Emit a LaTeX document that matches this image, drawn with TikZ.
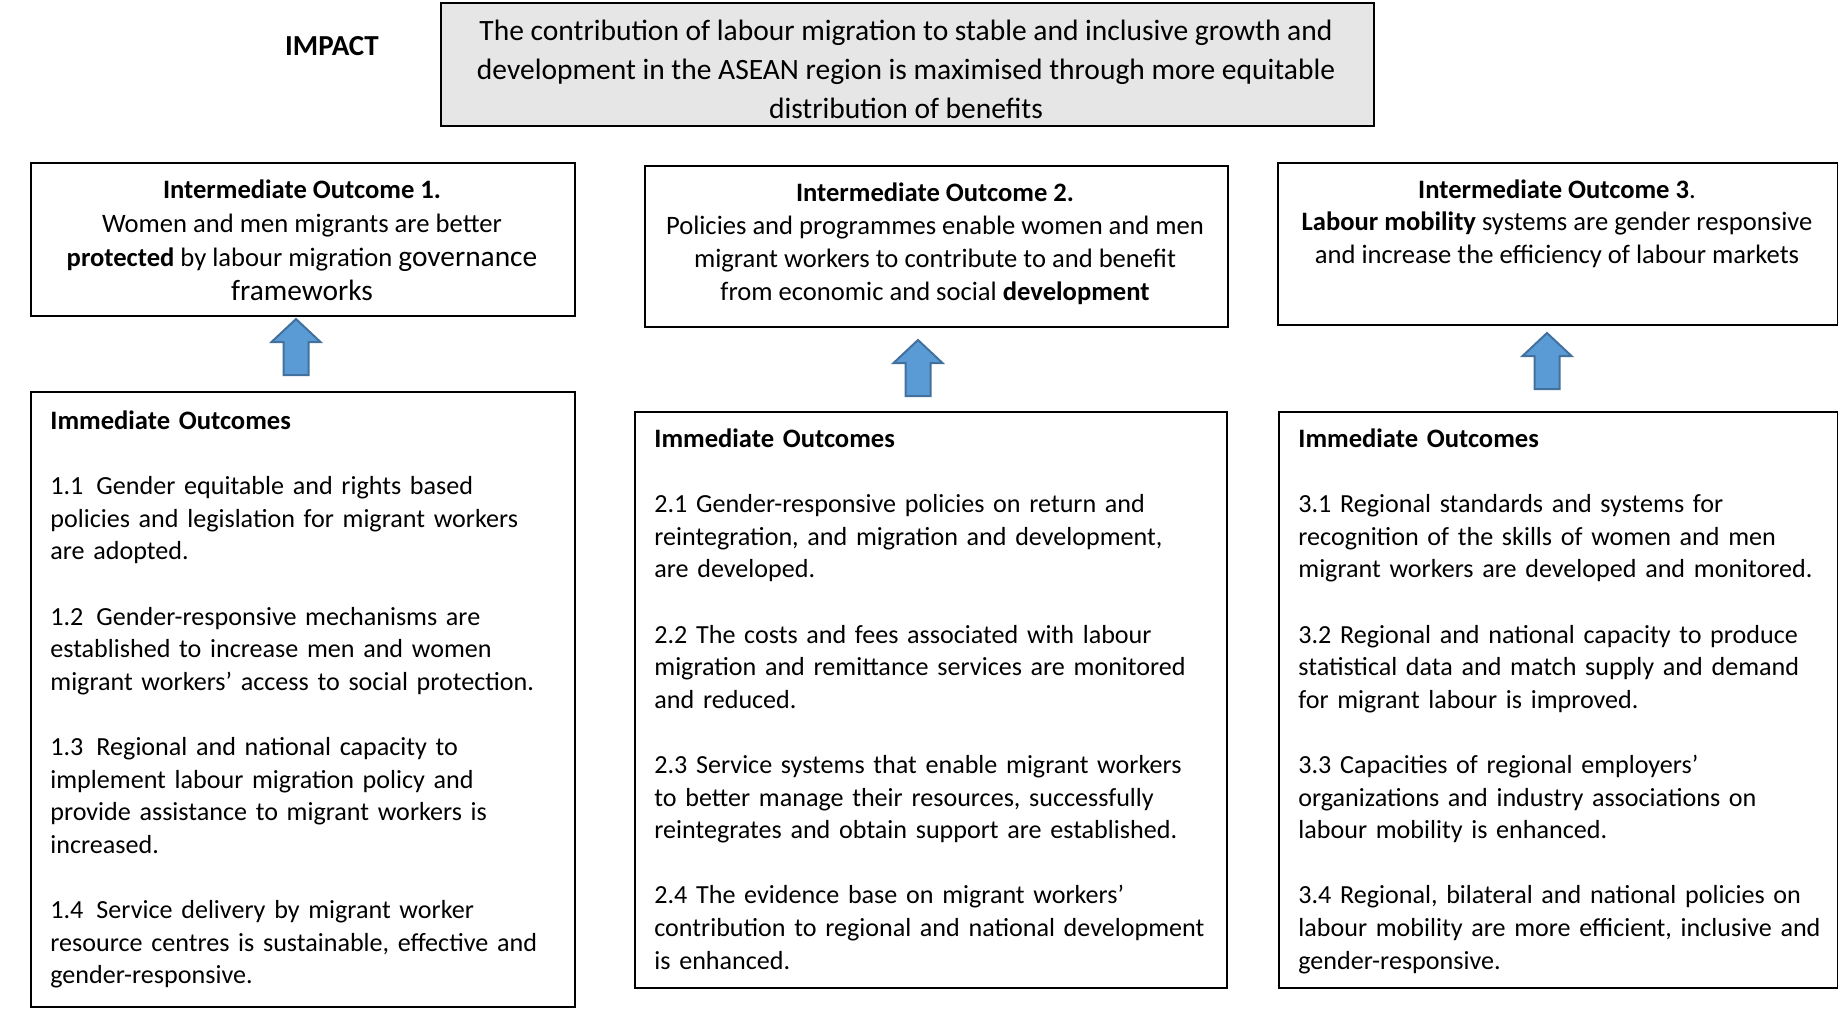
\documentclass[tikz,border=0pt]{standalone}
\usepackage{fontspec}
\setmainfont{Carlito}
\definecolor{boxgrey}{HTML}{E6E6E6}
\definecolor{arrowfill}{HTML}{5B9BD5}
\definecolor{arrowline}{HTML}{41719C}
% first-line strut: puts the first baseline 10pt below the node top
\newcommand\fl{\rule{0pt}{10pt}}
\newcommand\hdr[1]{{\fontsize{13.3}{16.3}\selectfont\textbf{#1}}}
\begin{document}
\begin{tikzpicture}[x=0.5pt,y=-0.5pt,
  box/.style={draw=black,line width=0.8pt,inner sep=0pt,anchor=north west},
  greybox/.style={box,fill=boxgrey},
  ctext/.style={inner sep=0pt,anchor=north,align=center},
  ltext/.style={inner sep=0pt,anchor=north west,align=left,text width=300pt},
  bodyfont/.style={font=\fontsize{13.05}{16.3}\selectfont},
  uparrow/.pic={
    \path[fill=arrowfill,draw=arrowline,line width=1pt,line join=miter]
      (0,0) -- (24.5,23) -- (12.5,23) -- (12.5,56) -- (-12.5,56)
      -- (-12.5,23) -- (-24.5,23) -- cycle;
  }]
\useasboundingbox (0,0) rectangle (1838,1008);

% impact
\node[greybox,minimum width=466.5pt,minimum height=61.5pt] (impactbox) at (440,2) {};
\node[font=\bfseries\fontsize{14.5}{17}\selectfont] (impact) at (332,46) {IMPACT};
\node[ctext,font=\fontsize{14.75}{19.5}\selectfont] (impacttext) at (906,20)
  {\fl The contribution of labour migration to stable and inclusive growth and\\
   development in the ASEAN region is maximised through more equitable\\
   distribution of benefits};

% intermediate outcomes
\node[box,minimum width=272pt,minimum height=76.5pt] (io1) at (30,162) {};
\node[box,minimum width=291.5pt,minimum height=80.5pt] (io2) at (644,165) {};
\node[box,minimum width=279.75pt,minimum height=81pt] (io3) at (1277,162) {};

\node[ctext,font=\fontsize{13.3}{17}\selectfont] (io1text) at (302,178)
  {\fl\textbf{Intermediate Outcome 1.}\\
   Women and men migrants are better\\
   \textbf{protected} by labour migration {\fontsize{14.7}{17}\selectfont governance}\\
   {\fontsize{14.7}{17}\selectfont frameworks}};
\node[ctext,font=\fontsize{13.3}{16.5}\selectfont] (io2text) at (935,181)
  {\fl\textbf{Intermediate Outcome 2.}\\
   Policies and programmes enable women and men\\
   migrant workers to contribute to and benefit\\
   from economic and social \textbf{development}};
\node[ctext,font=\fontsize{13.3}{16.2}\selectfont] (io3text) at (1557,178)
  {\fl\textbf{Intermediate Outcome 3}.\\
   \textbf{Labour mobility} systems are gender responsive\\
   and increase the efficiency of labour markets};

% immediate outcomes
\node[box,minimum width=272pt,minimum height=307.5pt] (im1) at (30,391) {};
\node[box,minimum width=296pt,minimum height=288pt] (im2) at (634,411) {};
\node[box,minimum width=279.25pt,minimum height=288pt] (im3) at (1278,411) {};

\node[ltext,bodyfont] (im1text) at (50,409)
  {\fl\hdr{Immediate Outcomes}\\[16.3pt]
   1.1\enspace Gender equitable and rights based\\
   policies and legislation for migrant workers\\
   are adopted.\\[16.3pt]
   1.2\enspace Gender-responsive mechanisms are\\
   established to increase men and women\\
   migrant workers’ access to social protection.\\[16.3pt]
   1.3\enspace Regional and national capacity to\\
   implement labour migration policy and\\
   provide assistance to migrant workers is\\
   increased.\\[16.3pt]
   1.4\enspace Service delivery by migrant worker\\
   resource centres is sustainable, effective and\\
   gender-responsive.};

\node[ltext,bodyfont] (im2text) at (654,427)
  {\fl\hdr{Immediate Outcomes}\\[16.3pt]
   2.1 Gender-responsive policies on return and\\
   reintegration, and migration and development,\\
   are developed.\\[16.3pt]
   2.2 The costs and fees associated with labour\\
   migration and remittance services are monitored\\
   and reduced.\\[16.3pt]
   2.3 Service systems that enable migrant workers\\
   to better manage their resources, successfully\\
   reintegrates and obtain support are established.\\[16.3pt]
   2.4 The evidence base on migrant workers’\\
   contribution to regional and national development\\
   is enhanced.};

\node[ltext,bodyfont] (im3text) at (1298,427)
  {\fl\hdr{Immediate Outcomes}\\[16.3pt]
   3.1 Regional standards and systems for\\
   recognition of the skills of women and men\\
   migrant workers are developed and monitored.\\[16.3pt]
   3.2 Regional and national capacity to produce\\
   statistical data and match supply and demand\\
   for migrant labour is improved.\\[16.3pt]
   3.3 Capacities of regional employers’\\
   organizations and industry associations on\\
   labour mobility is enhanced.\\[16.3pt]
   3.4 Regional, bilateral and national policies on\\
   labour mobility are more efficient, inclusive and\\
   gender-responsive.};

% block arrows from immediate to intermediate outcomes
\coordinate (tip1) at (296,319);
\coordinate (tip2) at (918,340);
\coordinate (tip3) at (1547,333);
\pic at (tip1) {uparrow};
\pic at (tip2) {uparrow};
\pic at (tip3) {uparrow};
\end{tikzpicture}
\end{document}
